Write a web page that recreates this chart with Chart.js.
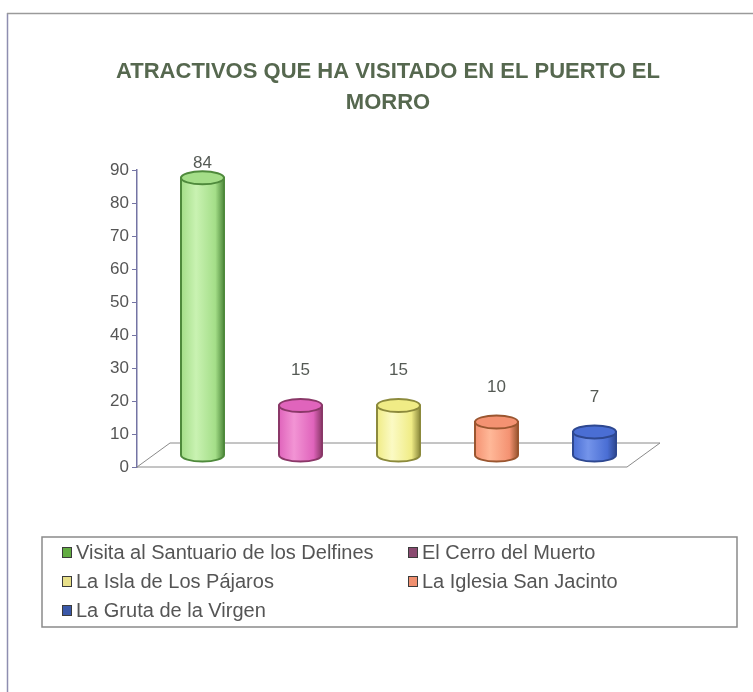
<!DOCTYPE html>
<html>
<head>
<meta charset="utf-8">
<script src="https://cdn.jsdelivr.net/npm/chart.js@4/dist/chart.umd.min.js"></script>
<style>
  html, body { margin: 0; padding: 0; background: #fff; }
  #wrap { width: 753px; height: 692px; position: relative; }
</style>
</head>
<body>
<div id="wrap"><canvas id="chart"></canvas></div>
<script>
const TITLE_LINES = ['ATRACTIVOS QUE HA VISITADO EN EL PUERTO EL', 'MORRO'];
const CATEGORIES = [
  'Visita al Santuario de los Delfines',
  'El Cerro del Muerto',
  'La Isla de Los Pájaros',
  'La Iglesia San Jacinto',
  'La Gruta de la Virgen',
];
const VALUES = [84, 15, 15, 10, 7];
const Y_TICKS = [0, 10, 20, 30, 40, 50, 60, 70, 80, 90];

// cylinder colours: fill, highlight, edge
const FILLS = ['#a4de88', '#e064bc', '#f0ec86', '#f49272', '#4a6ed4'];
const LIGHTS = ['#c9f2b2', '#f294d4', '#fbfac4', '#ffb898', '#7494ea'];
const EDGES = ['#4f8a3c', '#8a3868', '#8c8a3c', '#9a5630', '#2e4890'];
const MARKERS = ['#62ac42', '#8a4a70', '#e8e08a', '#f09070', '#3a58a8'];

const DEPTH_X = 33, DEPTH_Y = 24; // floor depth

const framePlugin = {
  id: 'frame',
  beforeDraw: (chart) => {
    const ctx = chart.ctx;
    ctx.save();
    ctx.fillStyle = '#fff';
    ctx.fillRect(0, 0, chart.width, chart.height);
    ctx.lineWidth = 1.5;
    ctx.strokeStyle = '#8e8eb0';
    ctx.beginPath();
    ctx.moveTo(7.5, 13);
    ctx.lineTo(7.5, chart.height);
    ctx.stroke();
    ctx.strokeStyle = '#9a9a9a';
    ctx.beginPath();
    ctx.moveTo(7, 13.5);
    ctx.lineTo(chart.width, 13.5);
    ctx.stroke();

    // title
    ctx.fillStyle = '#56684f';
    ctx.font = 'bold 22px "Liberation Sans", Arial, sans-serif';
    ctx.textAlign = 'center';
    ctx.textBaseline = 'middle';
    ctx.fillText(TITLE_LINES[0], 388, 72);
    ctx.fillText(TITLE_LINES[1], 388, 103);
    ctx.restore();
  },
  beforeDatasetsDraw: (chart) => {
    // 3D floor
    const { left, right, bottom } = chart.chartArea;
    const ctx = chart.ctx;
    ctx.save();
    ctx.strokeStyle = '#8a8a8a';
    ctx.lineWidth = 1;
    ctx.beginPath();
    ctx.moveTo(left, bottom);
    ctx.lineTo(left + DEPTH_X, bottom - DEPTH_Y);
    ctx.lineTo(right + DEPTH_X, bottom - DEPTH_Y);
    ctx.lineTo(right, bottom);
    ctx.closePath();
    ctx.stroke();
    ctx.restore();
  },
};

const cylinderPlugin = {
  id: 'cylinders',
  afterDatasetsDraw: (chart) => {
    const ctx = chart.ctx;
    const yScale = chart.scales.y;
    const meta = chart.getDatasetMeta(0);
    const rx = 21.5, ry = 6.5;
    ctx.save();
    meta.data.forEach((bar, i) => {
      const cx = bar.x + DEPTH_X / 2;
      const baseY = yScale.getPixelForValue(0) - DEPTH_Y / 2;
      const topY = yScale.getPixelForValue(VALUES[i]) - DEPTH_Y / 2;

      const g = ctx.createLinearGradient(cx - rx, 0, cx + rx, 0);
      g.addColorStop(0, FILLS[i]);
      g.addColorStop(0.35, LIGHTS[i]);
      g.addColorStop(0.8, FILLS[i]);
      g.addColorStop(1, EDGES[i]);

      ctx.beginPath();
      ctx.moveTo(cx - rx, topY);
      ctx.lineTo(cx - rx, baseY);
      ctx.ellipse(cx, baseY, rx, ry, 0, Math.PI, 0, true);
      ctx.lineTo(cx + rx, topY);
      ctx.closePath();
      ctx.fillStyle = g;
      ctx.fill();
      ctx.lineWidth = 2;
      ctx.strokeStyle = EDGES[i];
      ctx.stroke();

      ctx.beginPath();
      ctx.ellipse(cx, topY, rx, ry, 0, 0, Math.PI * 2);
      ctx.fillStyle = FILLS[i];
      ctx.fill();
      ctx.stroke();

      // value label
      const labelY = Math.max(topY - 35, chart.chartArea.top - 7);
      ctx.fillStyle = '#555a55';
      ctx.font = '17px "Liberation Sans", Arial, sans-serif';
      ctx.textAlign = 'center';
      ctx.textBaseline = 'middle';
      ctx.fillText(String(VALUES[i]), cx, labelY);
    });
    ctx.restore();
  },
};

const legendPlugin = {
  id: 'boxLegend',
  afterDraw: (chart) => {
    const ctx = chart.ctx;
    const box = { x: 42, y: 537, w: 695, h: 90 };
    const cols = [62, 408];
    const rowY = [552, 581, 610];
    ctx.save();
    ctx.strokeStyle = '#8a8a8a';
    ctx.lineWidth = 1.5;
    ctx.strokeRect(box.x, box.y, box.w, box.h);
    ctx.font = '20px "Liberation Sans", Arial, sans-serif';
    ctx.textAlign = 'left';
    ctx.textBaseline = 'middle';
    CATEGORIES.forEach((name, i) => {
      const x = cols[i % 2];
      const y = rowY[Math.floor(i / 2)];
      ctx.fillStyle = MARKERS[i];
      ctx.fillRect(x, y - 5, 10, 11);
      ctx.lineWidth = 1;
      ctx.strokeStyle = '#3c3c3c';
      ctx.strokeRect(x + 0.5, y - 4.5, 9, 10);
      ctx.fillStyle = '#555555';
      ctx.fillText(name, x + 14, y + 1);
    });
    ctx.restore();
  },
};

new Chart(document.getElementById('chart'), {
  type: 'bar',
  data: {
    labels: CATEGORIES,
    datasets: [
      {
        data: VALUES,
        backgroundColor: 'rgba(0,0,0,0)',
        borderWidth: 0,
      },
    ],
  },
  plugins: [framePlugin, cylinderPlugin, legendPlugin],
  options: {
    responsive: true,
    maintainAspectRatio: false,
    animation: false,
    layout: {
      padding: { left: 92, right: 126, top: 170, bottom: 225 },
    },
    scales: {
      x: {
        display: false,
      },
      y: {
        min: 0,
        max: 90,
        afterFit: (s) => {
          s.width = 45;
        },
        afterBuildTicks: (s) => {
          s.ticks = Y_TICKS.map((v) => ({ value: v }));
        },
        grid: {
          drawOnChartArea: false,
          tickLength: 5,
          color: '#7474a4',
        },
        border: {
          color: '#7474a4',
          width: 1.5,
        },
        ticks: {
          padding: 3,
          color: '#555555',
          font: { size: 17, family: '"Liberation Sans", Arial, sans-serif' },
        },
      },
    },
    plugins: {
      legend: { display: false },
      title: { display: false },
      tooltip: { enabled: false },
    },
  },
});
</script>
</body>
</html>
